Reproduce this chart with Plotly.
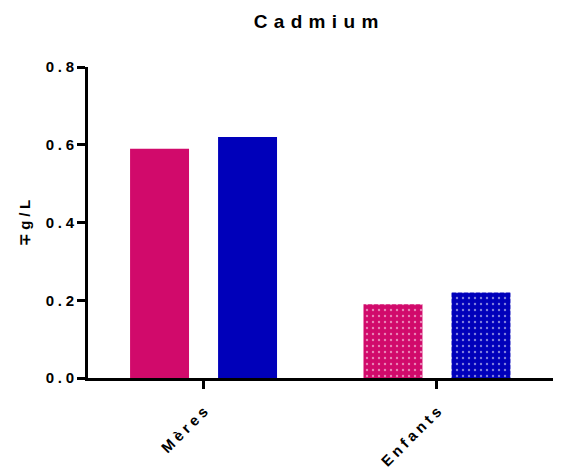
import plotly.graph_objects as go

def track(s, sp="\u2005"):
    return sp.join(list(s))

categories = ["Mères", "Enfants"]
series1 = [0.59, 0.19]
series2 = [0.62, 0.22]
yticks = [0.0, 0.2, 0.4, 0.6, 0.8]
ytick_labels = ["0.0", "0.2", "0.4", "0.6", "0.8"]
title_text = "Cadmium"
ylabel = "∓g/L"

pink = "#D10A6B"
blue = "#0000BA"

FONT = "Liberation Sans, Arial, sans-serif"
cats = [track(c) for c in categories]

fig = go.Figure()
for vals, col in [(series1, pink), (series2, blue)]:
    fig.add_trace(go.Bar(
        x=cats, y=vals,
        marker=dict(color=col, line=dict(width=0),
                    pattern=dict(shape=["", "."], fgcolor="white", bgcolor=col,
                                 size=6, solidity=0.12, fillmode="overlay")),
        showlegend=False,
    ))

fig.update_layout(
    width=555, height=461,
    margin=dict(l=80, r=10, t=59, b=91),
    plot_bgcolor="white", paper_bgcolor="white",
    barmode="group", bargap=0.246, bargroupgap=0.33,
    font=dict(family=FONT, color="black", size=15, weight="bold"),
    title=dict(text=track(title_text, "\u2004"), x=0.555, xanchor="center",
               y=0.972, yanchor="middle", yref="container",
               font=dict(family=FONT, size=19, weight="bold")),
    annotations=[dict(text=track(ylabel), xref="paper", yref="paper",
                      x=-0.1355, y=0.5, xanchor="center", yanchor="middle",
                      textangle=-90, showarrow=False,
                      font=dict(family=FONT, size=15, weight="bold"))],
)
fig.update_xaxes(
    range=[-0.495, 1.497], showline=True, linecolor="black", linewidth=3,
    ticks="outside", ticklen=8, tickwidth=3, tickcolor="black",
    tickangle=-45, tickfont=dict(family=FONT, size=15, weight="bold"),
    ticklabelstandoff=8, showgrid=False, automargin=False,
)
fig.update_yaxes(
    range=[0, 0.8], tickvals=yticks, ticktext=[track(t) for t in ytick_labels],
    showline=True, linecolor="black", linewidth=3,
    ticks="outside", ticklen=8, tickwidth=3, tickcolor="black",
    showgrid=False, zeroline=False, automargin=False,
    tickfont=dict(family=FONT, size=15, weight="bold"),
)

fig.write_html("out.html")
